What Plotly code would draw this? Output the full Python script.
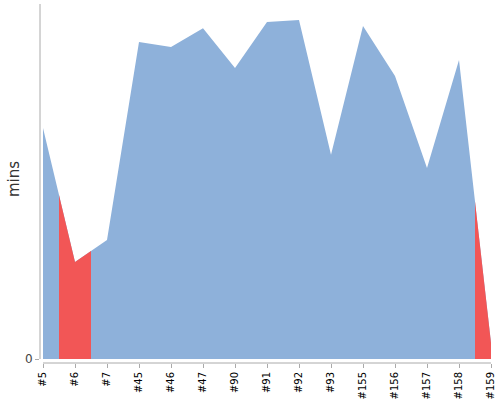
import plotly.graph_objects as go

categories = ["#5", "#6", "#7", "#45", "#46", "#47", "#90", "#91", "#92", "#93",
              "#155", "#156", "#157", "#158", "#159"]
values = [65.1, 27.3, 33.5, 89.3, 87.9, 93.2, 82.0, 94.9, 95.5, 57.5,
          93.8, 79.7, 53.8, 84.2, 4.5]
highlight = ["#6", "#159"]

BLUE = "#8eb1da"
RED = "#f25656"

n = len(categories)
xs = list(range(n))

fig = go.Figure()

# base blue area
fig.add_trace(go.Scatter(
    x=xs + [n - 1, 0], y=values + [0, 0],
    fill="toself", fillcolor=BLUE, mode="lines", line=dict(width=0),
    hoverinfo="skip", showlegend=False))

# highlighted segments (half band on each side of the point)
for i, c in enumerate(categories):
    if c not in highlight:
        continue
    px, py = [], []
    if i > 0:
        px.append(i - 0.5); py.append((values[i] + values[i - 1]) / 2)
    px.append(i); py.append(values[i])
    if i < n - 1:
        px.append(i + 0.5); py.append((values[i] + values[i + 1]) / 2)
    right = px[-1]; left = px[0]
    px += [right, left]; py += [0, 0]
    fig.add_trace(go.Scatter(
        x=px, y=py, fill="toself", fillcolor=RED, mode="lines",
        line=dict(width=0), hoverinfo="skip", showlegend=False))

ymax = 100
ymin = -1.127

fig.update_layout(
    width=500, height=400,
    margin=dict(l=40, r=8, t=4, b=37),
    paper_bgcolor="white", plot_bgcolor="white",
    font=dict(family="DejaVu Sans", color="#000"),
    xaxis=dict(
        range=[-3 / 32, n - 1 + 1 / 32],
        tickmode="array", tickvals=xs, ticktext=categories,
        tickangle=-90, tickfont=dict(size=10, color="#000"),
        ticks="outside", ticklen=4, tickcolor="#aaa",
        showline=False, showgrid=False, zeroline=False, fixedrange=True,
        automargin=False),
    yaxis=dict(
        range=[ymin, ymax],
        tickmode="array", tickvals=[0], ticktext=["0"],
        tickfont=dict(size=12, color="#444"),
        ticks="outside", ticklen=4, tickcolor="#aaa",
        showline=False, showgrid=False, zeroline=False, automargin=False),
    annotations=[
        dict(text="mins", xref="paper", yref="paper",
             x=(14 - 40) / 452, y=(363 - 179) / 359,
             xanchor="center", yanchor="middle", textangle=-90,
             showarrow=False, font=dict(size=15, color="#333")),
    ],
    shapes=[
        dict(type="line", xref="paper", yref="y", x0=0, x1=0, y0=0, y1=ymax,
             line=dict(color="#aaa", width=1)),
        dict(type="line", xref="x", yref="paper", x0=0, x1=n - 1, y0=0, y1=0,
             line=dict(color="#aaa", width=1)),
    ],
)

fig.write_html("out.html")
